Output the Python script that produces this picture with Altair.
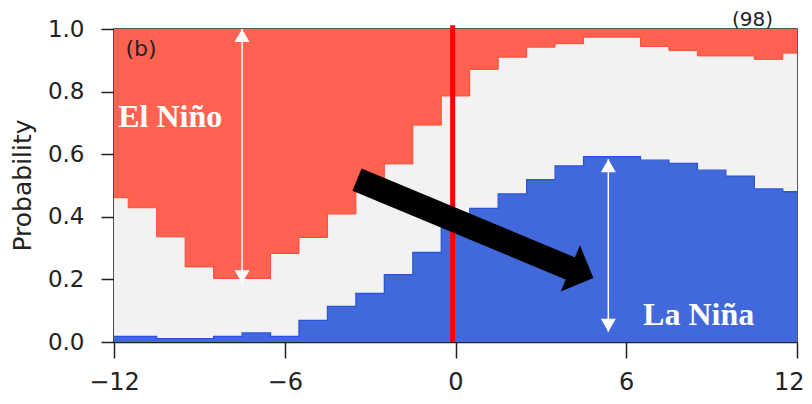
import altair as alt
import pandas as pd

# ---- data ----
months = list(range(-12, 13))
la_nina_top = [0.018, 0.018, 0.011, 0.011, 0.018, 0.029, 0.018, 0.069, 0.114, 0.155,
               0.215, 0.286, 0.364, 0.427, 0.473, 0.519, 0.563, 0.592, 0.592, 0.581,
               0.571, 0.549, 0.530, 0.489, 0.480]
neutral_top = [0.461, 0.429, 0.336, 0.240, 0.203, 0.203, 0.283, 0.334, 0.409, 0.490,
               0.569, 0.693, 0.786, 0.871, 0.910, 0.942, 0.953, 0.974, 0.974, 0.944,
               0.931, 0.914, 0.914, 0.903, 0.923]

x_ticks = [-12, -6, 0, 6, 12]
y_ticks = [0.0, 0.2, 0.4, 0.6, 0.8, 1.0]

# annotations (data coordinates)
vline_x = [-0.1]
white_arrow_x = [-7.5, 5.37]
white_arrow_top = [1.0, 0.584]
white_arrow_bot = [0.188, 0.033]
black_arrow_start = [-3.46, 0.519]
black_arrow_end = [4.09, 0.233]
black_head = [4.44, 0.220]
labels_text = ["El Niño", "La Niña"]
labels_x = [-11.85, 6.59]
labels_y = [0.688, 0.054]
panel_text = ["(b)", "(98)"]
panel_x = [-11.6, 11.16]
panel_y = [0.935, 1.03]

RED = "#FF6250"
BLUE = "#4169DB"
NEUTRAL = "#F2F2F2"

df = pd.DataFrame({"month": months, "la_nina": la_nina_top, "neutral_top": neutral_top})
df["zero"] = 0.0
df["one"] = 1.0

xs = alt.Scale(domain=[-12, 12], nice=False, zero=False)
ys = alt.Scale(domain=[0, 1], nice=False, zero=False)

x_axis = alt.Axis(values=x_ticks, title=None, grid=False, labelFontSize=24,
                  labelFont="DejaVu Sans", labelColor="#222", tickSize=16,
                  tickColor="#222", tickWidth=1.5, domainColor="#222", domainWidth=1.5,
                  labelPadding=12, labelFlush=False,
                  labelAlign={"condition": {"test": "datum.value == 12", "value": "right"},
                              "value": "center"},
                  labelOffset={"condition": {"test": "datum.value == 12", "value": 7},
                               "value": 0})
y_axis = alt.Axis(values=y_ticks, format=".1f", title="Probability", grid=False,
                  labelFontSize=23, labelFont="DejaVu Sans", labelColor="#222",
                  tickSize=13, tickColor="#222", tickWidth=1.5, domainColor="#222",
                  domainWidth=1.5, labelPadding=17, titleFontSize=25,
                  titleFont="DejaVu Sans", titleFontWeight="normal", titleColor="#222",
                  titleX=-92, titleY=156, titleBaseline="middle", titleAngle=-90,
                  labelFlush=False)


def X(field):
    return alt.X(field, scale=xs, axis=x_axis)


def Y(field):
    return alt.Y(field, scale=ys, axis=y_axis)


base = alt.Chart(df)

blue = base.mark_area(interpolate="step", color=BLUE).encode(
    x=X("month:Q"), y=Y("zero:Q"), y2="la_nina:Q",
)
neutral = base.mark_area(interpolate="step", color=NEUTRAL).encode(
    x=X("month:Q"), y=Y("la_nina:Q"), y2="neutral_top:Q",
)
red = base.mark_area(interpolate="step", color=RED).encode(
    x=X("month:Q"), y=Y("neutral_top:Q"), y2="one:Q",
)
blue_edge = base.mark_line(interpolate="step", color="#2A55D6", strokeWidth=1.3).encode(
    x=X("month:Q"), y=Y("la_nina:Q"),
)
red_edge = base.mark_line(interpolate="step", color="#FF4A38", strokeWidth=1.0).encode(
    x=X("month:Q"), y=Y("neutral_top:Q"),
)

vdf = pd.DataFrame({"x": vline_x, "y": [1.012], "y2": [0.0]})
vline = alt.Chart(vdf).mark_rule(color="#FF0000", strokeWidth=5).encode(
    x=X("x:Q"), y=Y("y:Q"), y2="y2:Q",
)

wdf = pd.DataFrame({"x": white_arrow_x, "top": white_arrow_top, "bot": white_arrow_bot})
w_rule = alt.Chart(wdf).mark_rule(color="white", strokeWidth=1.5).encode(
    x=X("x:Q"), y=Y("top:Q"), y2="bot:Q",
)
w_up = alt.Chart(wdf).mark_point(shape="triangle-up", filled=True, size=225,
                                 color="white", opacity=1, yOffset=6.5).encode(
    x=X("x:Q"), y=Y("top:Q"),
)
w_down = alt.Chart(wdf).mark_point(shape="triangle-down", filled=True, size=225,
                                   color="white", opacity=1, yOffset=-6.5).encode(
    x=X("x:Q"), y=Y("bot:Q"),
)

bdf = pd.DataFrame({"x": [black_arrow_start[0]], "y": [black_arrow_start[1]],
                    "x2": [black_arrow_end[0]], "y2": [black_arrow_end[1]]})
b_shaft = alt.Chart(bdf).mark_rule(color="black", strokeWidth=24, strokeCap="butt").encode(
    x=X("x:Q"), y=Y("y:Q"), x2="x2:Q", y2="y2:Q",
)
hdf = pd.DataFrame({"x": [black_head[0]], "y": [black_head[1]]})
b_head = alt.Chart(hdf).mark_point(shape="M 0.5 0 L -0.5 1 L -0.5 -1 Z", filled=True,
                                   size=2500, color="black", opacity=1, angle=22.5).encode(
    x=X("x:Q"), y=Y("y:Q"),
)

ldf = pd.DataFrame({"t": labels_text, "x": labels_x, "y": labels_y})
labels = alt.Chart(ldf).mark_text(align="left", baseline="alphabetic", color="white",
                                  font="Liberation Serif", fontWeight="bold",
                                  fontSize=32).encode(
    x=X("x:Q"), y=Y("y:Q"), text="t:N",
)

pdf = pd.DataFrame({"t": panel_text[:1], "x": panel_x[:1], "y": panel_y[:1]})
panel_b = alt.Chart(pdf).mark_text(align="left", baseline="middle", color="#222",
                                   font="DejaVu Sans", fontSize=22).encode(
    x=X("x:Q"), y=Y("y:Q"), text="t:N",
)
pdf2 = pd.DataFrame({"t": panel_text[1:], "x": panel_x[1:], "y": panel_y[1:]})
panel_n = alt.Chart(pdf2).mark_text(align="right", baseline="middle", color="#222",
                                    font="DejaVu Sans", fontSize=20).encode(
    x=X("x:Q"), y=Y("y:Q"), text="t:N",
)

chart = alt.layer(
    blue, neutral, red, blue_edge, red_edge, vline, w_rule, w_up, w_down,
    b_shaft, b_head, labels, panel_b, panel_n
).properties(
    width=683, height=313,
    autosize=alt.AutoSizeParams(type="none"),
    padding={"left": 106, "top": 21, "right": 7, "bottom": 54},
    background="white",
).configure_view(stroke="#222", strokeWidth=1.5)

chart.save("out.html", embed_options={"renderer": "svg", "actions": False})
